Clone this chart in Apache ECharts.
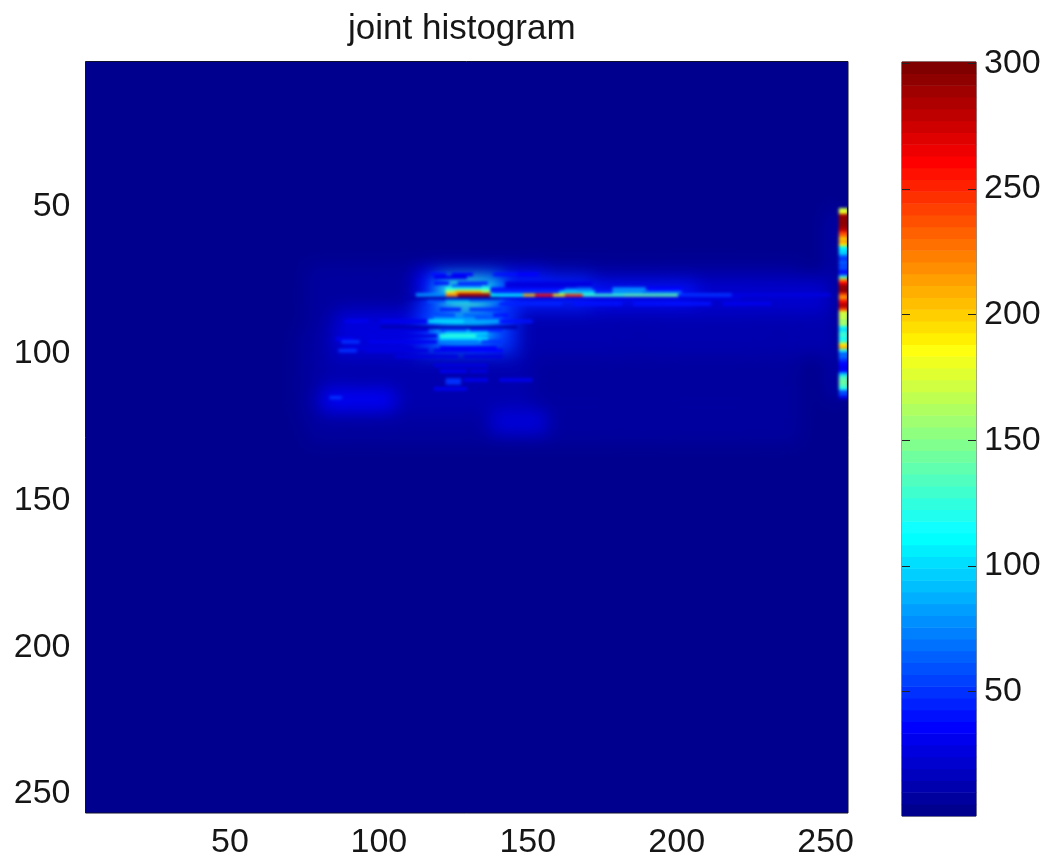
<!DOCTYPE html>
<html><head><meta charset="utf-8">
<style>html,body{margin:0;padding:0;background:#fff}#c{width:1052px;height:862px}</style>
<script src="https://cdn.jsdelivr.net/npm/echarts@6/dist/echarts.min.js"></script>
</head><body><div id="c"></div>
<script>
const titleText = 'joint histogram';
const binCount = 256;
const tickStep = 50;
const colorMax = 300;
const bandCount = 64;

// [rowFrom, rowTo, colFrom, colTo, count]; later entries replace earlier ones
const glowBlobs = [
 [70,130,75,240,5],[92,122,72,90,7],[74,100,120,250,11],[76,85,135,250,24],[77,83,170,250,20],
 [86,100,140,200,13],[90,120,80,150,14],[120,127,137,155,24],
 [86,100,85,115,26],[113,119,80,104,36],[72,80,112,155,35],[82,100,112,145,50],[74,84,140,170,45],
 [76,82,170,205,40],[74,82,118,140,90],[76,84,122,135,130],[88,96,118,138,80],
 [92,96,120,134,110],[52,115,250,253,14]
];
const clusterStreaks = [
 [73,73,117,121,40],[73,73,124,130,36],[73,73,138,145,42],[73,73,146,152,36],[74,74,118,128,30],
 [76,76,118,122,38],[76,76,126,135,45],
 [82,82,116,122,60],[82,82,122,130,85],[82,82,130,140,70],
 [83,83,140,160,45],[83,83,165,180,40],[83,83,185,210,38],[83,83,215,230,30],
 [85,85,120,126,45],[85,85,130,140,50],
 [87,87,118,124,55],[87,87,128,136,65],[87,87,138,142,40],
 [88,88,118,130,75],[88,88,132,140,60],
 [89,89,88,95,32],[89,89,100,116,30],[89,89,116,128,100],[89,89,128,140,85],[89,89,140,150,40],
 [91,91,100,145,14],
 [92,92,100,115,26],[92,92,120,128,55],[92,92,130,140,45],
 [93,93,122,135,95],[94,94,95,118,28],[94,94,120,131,125],[95,95,85,90,30],[95,95,120,135,100],
 [96,96,87,92,50],[96,96,96,118,30],[96,96,120,132,70],[96,96,134,140,50],
 [98,98,88,110,24],[98,98,120,138,35],
 [99,99,86,91,50],[99,99,95,115,26],[99,99,118,130,30],[99,99,130,140,36],
 [101,101,105,125,25],[101,101,128,140,28],
 [104,104,118,135,28],[106,106,120,128,30],[106,106,130,135,26],
 [109,109,128,135,32],[109,109,140,150,30],[109,110,122,126,50],
 [112,112,118,128,32],[115,115,83,86,50]
];
const ridgeStreaks = [
 [81,81,108,140,12],[81,81,140,220,25],
 [77,77,124,133,60],[78,78,122,136,120],[79,79,122,137,165],[79,79,125,133,205],
 [80,80,112,122,75],[80,80,122,126,220],[80,80,126,137,290],[80,80,137,148,110],
 [80,80,148,152,200],[80,80,152,158,255],[80,80,158,162,190],[80,80,162,168,240],
 [80,80,168,182,130],[80,80,182,200,140],[80,80,200,218,50],[80,80,218,250,28],
 [79,79,137,160,50],[78,78,137,165,40],[76,77,142,170,28],[79,79,160,172,95],
 [78,78,162,170,70],[79,79,172,190,45],[78,79,178,188,75],[79,79,188,200,70],
 [78,78,190,200,35]
];
// right edge column (cols 254-256), rows 51..115
const edgeFirstRow = 51;
const edgeCols = [254,255,256];
const edgeCounts = [170,180,290,295,295,295,290,280,240,225,200,215,190,110,100,95,60,50,65,55,60,40,45,130,220,260,290,295,290,235,215,250,275,285,240,175,165,170,150,165,120,100,125,130,115,130,190,210,120,65,70,55,40,35,30,35,90,130,140,145,135,120,60,55,25];

function toCells(list){
  const m=new Map();
  list.forEach(([r0,r1,c0,c1,v])=>{for(let r=r0;r<=r1;r++)for(let c=c0;c<=c1;c++)m.set(r*1000+c,v);});
  return m;
}
function toData(m){const d=[];m.forEach((v,k)=>d.push([k%1000-1,Math.floor(k/1000)-1,v]));return d;}
const glowData=toData(toCells(glowBlobs));
const edgeSegs=[];
edgeCounts.forEach((v,i)=>edgeSegs.push([edgeFirstRow+i,edgeFirstRow+i,edgeCols[0],edgeCols[2],v]));
const detailData=toData(toCells(clusterStreaks.concat(ridgeStreaks,edgeSegs)));

const binLabels=Array.from({length:binCount},(_,i)=>String(i+1));
const barLabels=Array.from({length:colorMax},(_,i)=>String(i+1));
const bandLabels=Array.from({length:bandCount},(_,i)=>String(i+1));
const barData=bandLabels.map((l,i)=>[0,i,(i+0.5)*colorMax/bandCount]);

// MATLAB jet(64) bands
function ramp(x){return Math.max(0,Math.min(1,x));}
const pieces=[];
for(let i=0;i<bandCount;i++){
  const r=ramp(Math.min((i-23)/16,(71-i)/16)),g=ramp(Math.min((i-7)/16,(55-i)/16)),b=ramp(Math.min((i+9)/16,(40-i)/16));
  const h=n=>Math.round(n*255);
  pieces.push({gte:i*colorMax/bandCount,lt:(i+1)*colorMax/bandCount+(i===bandCount-1?1:0),color:`rgb(${h(r)},${h(g)},${h(b)})`});
}
const onTick=(i,v)=>Number(v)%tickStep===0;
const font={fontFamily:'"Liberation Sans",Arial,sans-serif',fontSize:34,color:'#161616'};
const plot={left:85.5,top:61.5,width:762.5,height:751.5};
const chart=echarts.init(document.getElementById('c'),null,{renderer:'canvas'});
const barTick={show:true,inside:true,length:8,alignWithLabel:true,interval:onTick,lineStyle:{color:'#222'}};
chart.setOption({
  animation:false,
  backgroundColor:'#fff',
  title:{text:titleText,left:343,top:7,textStyle:{fontFamily:font.fontFamily,fontSize:35,fontWeight:'normal',color:'#161616'}},
  tooltip:{show:false},
  visualMap:{type:'piecewise',show:false,dimension:2,seriesIndex:[0,1,2],pieces:pieces},
  grid:[
    {...plot,show:true,backgroundColor:pieces[0].color,borderColor:'#10102a',borderWidth:1},
    {left:902,top:62,width:74,height:754,show:true,backgroundColor:'transparent',borderColor:'#222',borderWidth:1}
  ],
  xAxis:[
    {type:'category',gridIndex:0,data:binLabels,position:'bottom',axisLine:{show:false},axisTick:{show:false},splitLine:{show:false},
     axisLabel:{...font,interval:onTick,margin:13,padding:[0,6,0,0]}},
    {type:'category',gridIndex:1,data:['1'],axisLine:{show:false},axisTick:{show:false},axisLabel:{show:false},splitLine:{show:false}}
  ],
  yAxis:[
    {type:'category',gridIndex:0,data:binLabels,inverse:true,axisLine:{show:false},axisTick:{show:false},splitLine:{show:false},
     axisLabel:{...font,interval:onTick,margin:15}},
    {type:'category',gridIndex:1,data:bandLabels,position:'left',axisLine:{show:false},axisTick:{show:false},axisLabel:{show:false},splitLine:{show:false}},
    {type:'category',gridIndex:1,data:barLabels,position:'right',axisLine:{show:false},z:5,axisTick:barTick,splitLine:{show:false},
     axisLabel:{...font,interval:onTick,margin:8}},
    {type:'category',gridIndex:1,data:barLabels,position:'left',axisLine:{show:false},z:5,axisTick:barTick,splitLine:{show:false},axisLabel:{show:false}}
  ],
  series:[
    {type:'heatmap',xAxisIndex:0,yAxisIndex:0,data:glowData,zlevel:1,progressive:0,itemStyle:{borderWidth:0}},
    {type:'heatmap',xAxisIndex:0,yAxisIndex:0,data:detailData,zlevel:2,progressive:0,itemStyle:{borderWidth:0}},
    {type:'heatmap',xAxisIndex:1,yAxisIndex:1,data:barData,progressive:0,itemStyle:{borderWidth:0}}
  ]
});
// soft photographic look: blur each layer, keeping histogram layers inside the plot box
function soften(){
  const list=document.querySelectorAll('#c canvas');
  const blur=['0.7px','9px','1.8px'];
  const w=1052,h=862;
  const clip=`inset(${plot.top+1}px ${w-plot.left-plot.width+1}px ${h-plot.top-plot.height+1}px ${plot.left+1}px)`;
  list.forEach((cv,i)=>{
    if(i>2)return;
    cv.style.filter=`blur(${blur[i]})`;
    if(i>0)cv.style.clipPath=clip;
  });
}
soften();
chart.on('finished',soften);
</script></body></html>
